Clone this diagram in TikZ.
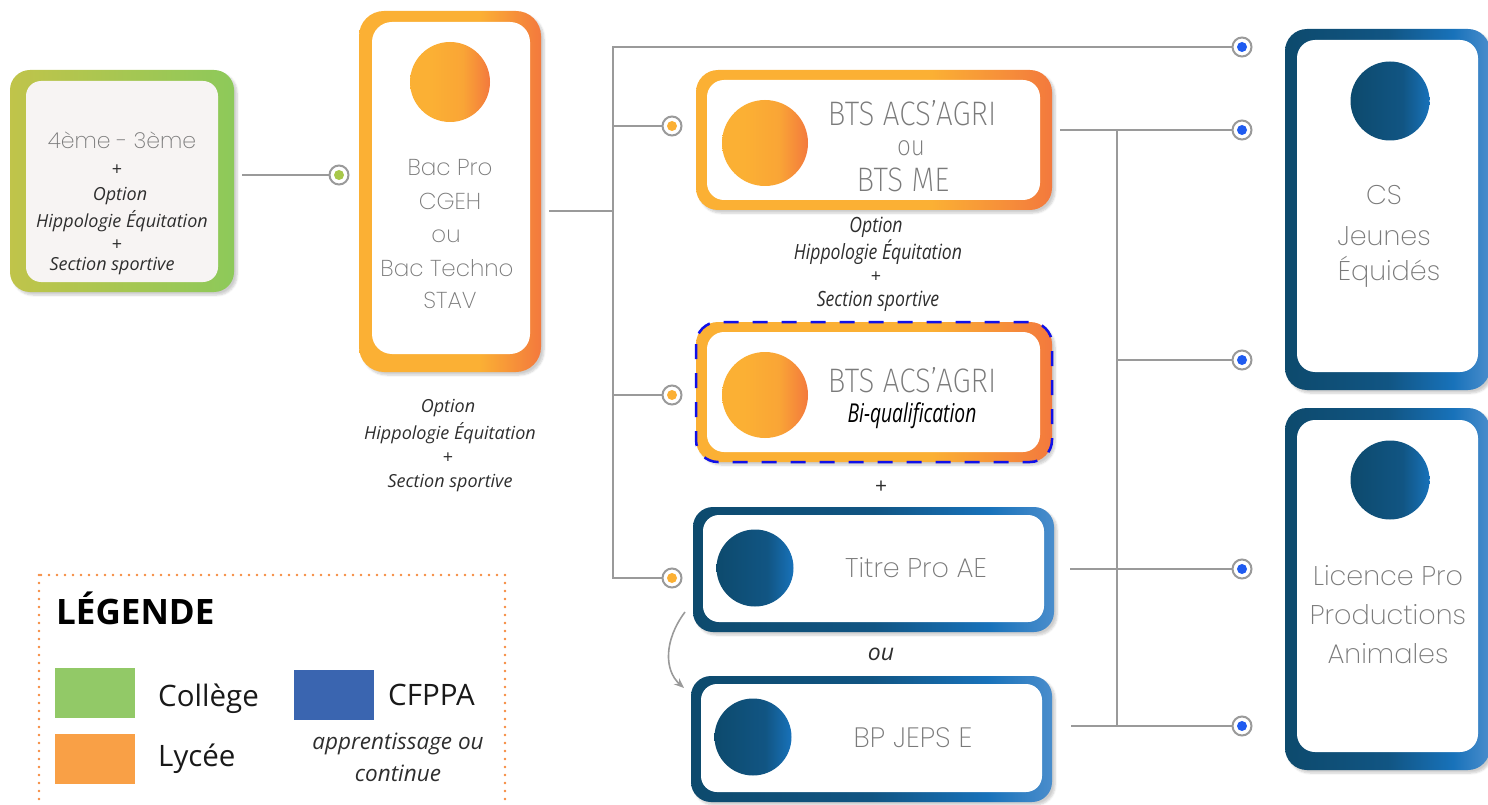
\documentclass[tikz,border=0pt]{standalone}
\usepackage{fontspec}
\setmainfont{Open Sans}
\newfontfamily\thinfont{Poppins ExtraLight}
\newfontfamily\condfont{Fira Sans ExtraLight}[FakeStretch=0.87]
\newfontfamily\conditfont{Open Sans}[FakeStretch=0.84]
\newfontfamily\bqfont{Open Sans}[FakeStretch=0.74]
\usetikzlibrary{shadows.blur,arrows.meta}
\definecolor{orL}{HTML}{FBB034}
\definecolor{orR}{HTML}{F3793D}
\definecolor{grL}{HTML}{C0C44A}
\definecolor{grR}{HTML}{8DC95A}
\definecolor{blL}{HTML}{0D4A6D}
\definecolor{blM}{HTML}{115583}
\definecolor{blB}{HTML}{1872BA}
\definecolor{blR}{HTML}{4A8DCC}
\definecolor{txtgray}{HTML}{7A7A7A}
\definecolor{linegray}{HTML}{9A9A9A}
\definecolor{dotgreen}{HTML}{A8C84A}
\definecolor{dotorange}{HTML}{FBB034}
\definecolor{dotblue}{HTML}{1F5BF0}
\definecolor{legGreen}{HTML}{92C967}
\definecolor{legOrange}{HTML}{F9A046}
\definecolor{legBlue}{HTML}{3A65B0}
\definecolor{legDot}{HTML}{F58A3E}
\definecolor{dashblue}{HTML}{1010E8}
\definecolor{pale}{HTML}{F7F4F3}
\definecolor{ittext}{HTML}{2E2E2E}
\pgfdeclarehorizontalshading{oshade}{100bp}{color(0bp)=(orL); color(25bp)=(orL); color(58bp)=(orL); color(75bp)=(orR); color(100bp)=(orR)}
\pgfdeclarehorizontalshading{ocshade}{100bp}{color(0bp)=(orL); color(25bp)=(orL); color(38bp)=(orL); color(58bp)=(orL!80!orR); color(75bp)=(orR); color(100bp)=(orR)}
\pgfdeclarehorizontalshading{bshade}{100bp}{color(0bp)=(blL); color(25bp)=(blL); color(50bp)=(blM); color(66bp)=(blB); color(75bp)=(blR); color(100bp)=(blR)}
\pgfdeclarehorizontalshading{bcshade}{100bp}{color(0bp)=(blL); color(25bp)=(blL); color(58bp)=(blM); color(75bp)=(blB); color(100bp)=(blB)}
\pgfdeclarehorizontalshading{gshade}{100bp}{color(0bp)=(grL); color(25bp)=(grL); color(75bp)=(grR); color(100bp)=(grR)}
\tikzset{
  obox/.style={rectangle, inner sep=0pt, outer sep=0pt, rounded corners=22pt,
    blur shadow={shadow xshift=3pt, shadow yshift=-3pt, shadow blur steps=6, shadow opacity=20}},
  orangebox/.style={obox, shading=oshade},
  greenbox/.style={obox, shading=gshade},
  bluebox/.style={obox, shading=bshade},
  ibox/.style={rectangle, inner sep=0pt, outer sep=0pt, rounded corners=17pt, fill=white},
  orcirc/.style={circle, inner sep=0pt, shading=ocshade},
  blcirc/.style={circle, inner sep=0pt, shading=bcshade},
  thintxt/.style={font=\thinfont\fontsize{23}{28}\selectfont, text=txtgray, inner sep=0pt},
  condtxt/.style={font=\condfont\fontsize{34}{38}\selectfont, text=txtgray, inner sep=0pt},
  ittxt/.style={font=\itshape\fontsize{18}{21}\selectfont, text=ittext, inner sep=0pt},
  cittxt/.style={font=\conditfont\itshape\fontsize{21}{24}\selectfont, text=ittext, inner sep=0pt},
  plustxt/.style={font=\fontsize{18}{20}\selectfont, text=ittext, inner sep=0pt},
  conn/.style={draw=linegray, line width=2pt},
  dotnode/.style={circle, draw=linegray, fill=white, line width=2pt, minimum size=19pt, inner sep=0pt,
    path picture={\fill[#1] (path picture bounding box.center) circle (5pt);}},
  legtxt/.style={font=\fontsize{29.5}{33}\selectfont, text=black!90, anchor=west, inner sep=0pt},
}
\begin{document}
\begin{tikzpicture}[x=1pt,y=-1pt]
\useasboundingbox (0,0) rectangle (1488,805);
\clip (0,0) rectangle (1488,805);

% ---------- College ----------
\node[greenbox, minimum width=224pt, minimum height=222pt, rounded corners=20pt] (college) at (122,181) {};
\node[ibox, fill=pale, minimum width=192pt, minimum height=201pt, rounded corners=15pt] (collegein) at (122,181.5) {};
\node[thintxt, font=\thinfont\fontsize{22}{26}\selectfont] (c1) at (122,140) {4ème - 3ème};
\node[plustxt] (c2) at (117,170) {+};
\node[ittxt] (c3) at (120,196) {Option};
\node[ittxt] (c4) at (122,221) {Hippologie Équitation};
\node[plustxt] (c5) at (117,245) {+};
\node[ittxt] (c6) at (112,266) {Section sportive};

% ---------- Bac ----------
\node[orangebox, minimum width=182pt, minimum height=361pt, rounded corners=25pt] (bac) at (450,191.5) {};
\node[ibox, minimum width=158pt, minimum height=332pt, rounded corners=20pt] (bacin) at (451,188) {};
\node[orcirc, minimum size=80pt] (baccirc) at (450,82) {};
\node[thintxt] (b1) at (450,168) {Bac Pro};
\node[thintxt] (b2) at (450,201) {CGEH};
\node[thintxt] (b3) at (446,236) {ou};
\node[thintxt] (b4) at (447,268) {Bac Techno};
\node[thintxt] (b5) at (450,300) {STAV};
\node[ittxt] (b6) at (448,408) {Option};
\node[ittxt] (b7) at (450,433) {Hippologie Équitation};
\node[plustxt] (b8) at (448,458) {+};
\node[ittxt] (b9) at (450,483) {Section sportive};

% ---------- BTS 1 ----------
\node[orangebox, minimum width=356pt, minimum height=140pt] (bts1) at (874,140) {};
\node[ibox, minimum width=333pt, minimum height=120pt] (bts1in) at (873.5,140) {};
\node[orcirc, minimum size=86pt] (bts1circ) at (765,143) {};
\node[condtxt] (t1) at (912,113) {BTS ACS’AGRI};
\node[condtxt, font=\condfont\fontsize{28}{30}\selectfont] (t2) at (911,148) {ou};
\node[condtxt] (t3) at (903,180) {BTS ME};
\node[cittxt] (t4) at (876,227) {Option};
\node[cittxt] (t5) at (878,252) {Hippologie Équitation};
\node[plustxt] (t6) at (876,277) {+};
\node[cittxt] (t7) at (878,301) {Section sportive};

% ---------- BTS 2 ----------
\node[orangebox, minimum width=356pt, minimum height=140pt] (bts2) at (874,392) {};
\draw[dashblue, line width=2.5pt, dash pattern=on 15pt off 14pt, rounded corners=22pt]
  (bts2.north west) rectangle (bts2.south east);
\node[ibox, minimum width=333pt, minimum height=120pt] (bts2in) at (873.5,392) {};
\node[orcirc, minimum size=86pt] (bts2circ) at (765,395) {};
\node[condtxt] (u1) at (912,380) {BTS ACS’AGRI};
\node[font=\bqfont\itshape\fontsize{26}{28}\selectfont, text=black, inner sep=0pt] (u2) at (912,416) {Bi-qualification};
\node[plustxt, font=\fontsize{21}{22}\selectfont] (u3) at (881,487) {+};

% ---------- Titre Pro ----------
\node[bluebox, minimum width=361pt, minimum height=125pt, rounded corners=20pt] (titre) at (873.5,569.5) {};
\node[ibox, minimum width=341pt, minimum height=107pt, rounded corners=16pt] (titrein) at (873.5,568.5) {};
\node[blcirc, minimum size=77pt] (titrecirc) at (755,568) {};
\node[thintxt, font=\thinfont\fontsize{27}{30}\selectfont] (v1) at (916,568) {Titre Pro AE};
\node[ittxt, font=\itshape\fontsize{23}{25}\selectfont] (v2) at (881,654) {ou};

% ---------- BP JEPS ----------
\node[bluebox, minimum width=361pt, minimum height=126pt, rounded corners=20pt] (bp) at (871.5,739) {};
\node[ibox, minimum width=341pt, minimum height=108pt, rounded corners=16pt] (bpin) at (871.5,738) {};
\node[blcirc, minimum size=77pt] (bpcirc) at (753,737) {};
\node[thintxt, font=\thinfont\fontsize{28}{30}\selectfont] (w1) at (913,738) {BP JEPS E};

% ---------- CS ----------
\node[bluebox, minimum width=205pt, minimum height=361pt, rounded corners=22pt] (cs) at (1387.5,209.5) {};
\node[ibox, minimum width=181pt, minimum height=332pt, rounded corners=18pt] (csin) at (1387.5,206) {};
\node[blcirc, minimum size=79pt] (cscirc) at (1390,101) {};
\node[thintxt, font=\thinfont\fontsize{27}{30}\selectfont] (x1) at (1384,195) {CS};
\node[thintxt, font=\thinfont\fontsize{27}{30}\selectfont] (x2) at (1384,236) {Jeunes};
\node[thintxt, font=\thinfont\fontsize{27}{30}\selectfont] (x3) at (1389,272) {Équidés};

% ---------- Licence ----------
\node[bluebox, minimum width=205pt, minimum height=362pt, rounded corners=22pt] (lic) at (1387.5,589) {};
\node[ibox, minimum width=181pt, minimum height=332pt, rounded corners=18pt] (licin) at (1387.5,586) {};
\node[blcirc, minimum size=79pt] (liccirc) at (1390,480) {};
\node[thintxt, font=\thinfont\fontsize{27}{30}\selectfont] (y1) at (1388,576) {Licence Pro};
\node[thintxt, font=\thinfont\fontsize{27}{30}\selectfont] (y2) at (1388,615) {Productions};
\node[thintxt, font=\thinfont\fontsize{27}{30}\selectfont] (y3) at (1388,654) {Animales};

% ---------- dots ----------
\node[dotnode=dotgreen] (dg) at (339,175) {};
\node[dotnode=dotorange] (do1) at (672,126) {};
\node[dotnode=dotorange] (do2) at (672,395) {};
\node[dotnode=dotorange] (do3) at (672,578) {};
\node[dotnode=dotblue] (db1) at (1242,47) {};
\node[dotnode=dotblue] (db2) at (1242,130) {};
\node[dotnode=dotblue] (db3) at (1242,360) {};
\node[dotnode=dotblue] (db4) at (1242,569) {};
\node[dotnode=dotblue] (db5) at (1242,726) {};

% ---------- connectors ----------
\coordinate (cs1) at (242,175);
\draw[conn] (cs1) -- (dg.west);
\coordinate (bs) at (549,211);
\coordinate (bj) at (613,211);
\coordinate (vt) at (613,47);
\coordinate (v1c) at (613,126);
\coordinate (v2c) at (613,395);
\coordinate (vb) at (613,578);
\draw[conn] (bs) -- (bj);
\draw[conn] (db1.west) -- (vt) -- (vb) -- (do3.west);
\draw[conn] (v1c) -- (do1.west);
\draw[conn] (v2c) -- (do2.west);

\coordinate (r1) at (1060,130);
\coordinate (rt) at (1117,130);
\coordinate (rm) at (1117,360);
\coordinate (rb) at (1117,726);
\coordinate (r4) at (1070,569);
\coordinate (r5) at (1071,726);
\draw[conn] (r1) -- (db2.west);
\draw[conn] (rt) -- (rb);
\draw[conn] (rm) -- (db3.west);
\draw[conn] (r4) -- (db4.west);
\draw[conn] (r5) -- (db5.west);

\coordinate (a1) at (685,612);
\coordinate (a2) at (684,688);
\draw[draw=linegray, line width=1.6pt, -{Stealth[length=10pt,width=8pt]}] (a1) .. controls (664,640) and (664,670) .. (a2);

% ---------- legend ----------
\draw[legDot, line width=2.6pt, line cap=round, dash pattern=on 0pt off 8pt] (39,575) rectangle (505,830);
\node[font=\bfseries\fontsize{35}{38}\selectfont, anchor=west, inner sep=0pt] (leg) at (56,608) {LÉGENDE};
\node[fill=legGreen, minimum width=80pt, minimum height=50pt, inner sep=0pt] (sq1) at (95,693) {};
\node[fill=legOrange, minimum width=80pt, minimum height=50pt, inner sep=0pt] (sq2) at (95,759) {};
\node[fill=legBlue, minimum width=80pt, minimum height=50pt, inner sep=0pt] (sq3) at (334,695) {};
\node[legtxt] (l1) at (158,699) {Collège};
\node[legtxt] (l2) at (158,759) {Lycée};
\node[legtxt] (l3) at (388,695) {CFPPA};
\node[ittxt, font=\itshape\fontsize{22.5}{25}\selectfont] (l4) at (398,744) {apprentissage ou};
\node[ittxt, font=\itshape\fontsize{22.5}{25}\selectfont] (l5) at (398,773) {continue};
\end{tikzpicture}
\end{document}
